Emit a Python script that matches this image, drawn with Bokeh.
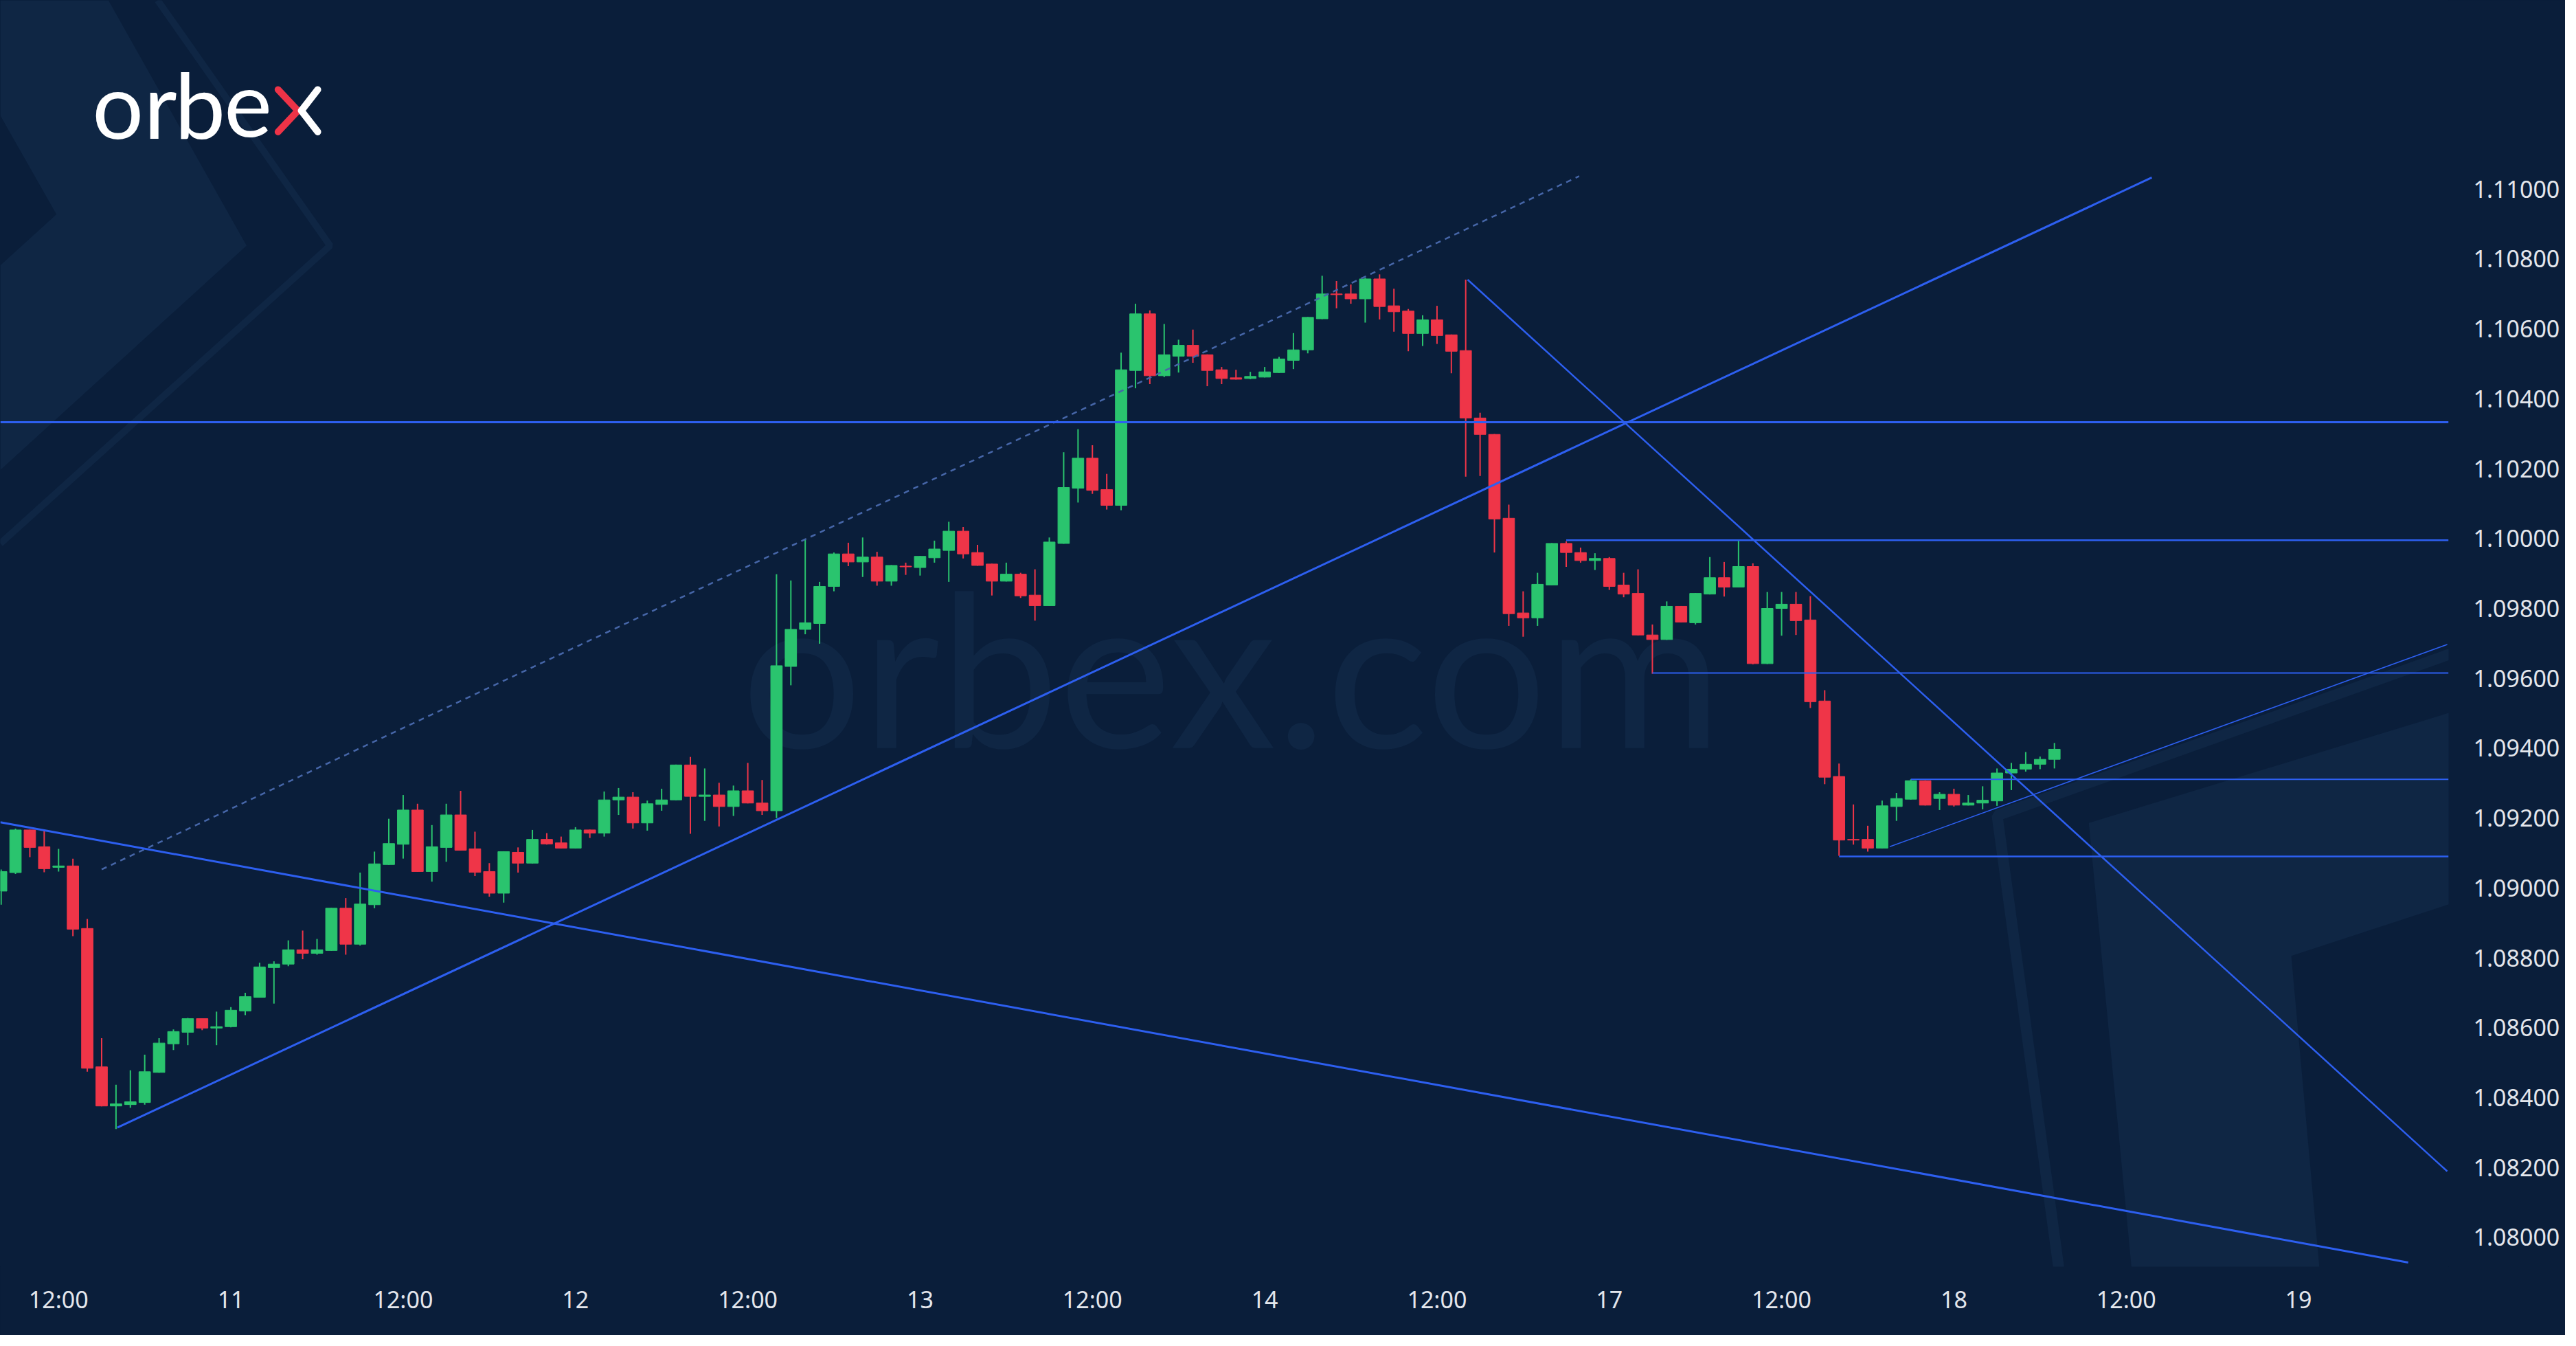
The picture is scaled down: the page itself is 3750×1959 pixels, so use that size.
from bokeh.plotting import figure
from bokeh.models import Range1d, FixedTicker, ColumnDataSource
from bokeh.embed import file_html
from bokeh.resources import INLINE
from bokeh.core.properties import value

# ---------------- data (hourly candles, x = hours from the 10th 00:00) ----------------
hours = list(range(8, 152))
opens = [1.08991, 1.09044, 1.09166, 1.09118, 1.09059, 1.09063, 1.08884, 1.08488, 1.08376, 1.08380,
         1.08386, 1.08472, 1.08554, 1.08587, 1.08626, 1.08599, 1.08603, 1.08648, 1.08687, 1.08772,
         1.08782, 1.08823, 1.08813, 1.08821, 1.08942, 1.08839, 1.08952, 1.09067, 1.09125, 1.09223,
         1.09047, 1.09116, 1.09209, 1.09112, 1.09047, 1.08985, 1.09102, 1.09071, 1.09139, 1.09129,
         1.09114, 1.09166, 1.09157, 1.09252, 1.09260, 1.09186, 1.09239, 1.09252, 1.09352, 1.09262,
         1.09266, 1.09233, 1.09278, 1.09243, 1.09221, 1.09634, 1.09740, 1.09757, 1.09863, 1.09956,
         1.09933, 1.09947, 1.09878, 1.09921, 1.09917, 1.09945, 1.09966, 1.10021, 1.09960, 1.09927,
         1.09878, 1.09898, 1.09838, 1.09808, 1.09986, 1.10144, 1.10230, 1.10140, 1.10095, 1.10481,
         1.10643, 1.10466, 1.10522, 1.10553, 1.10526, 1.10483, 1.10460, 1.10458, 1.10462, 1.10475,
         1.10510, 1.10540, 1.10629, 1.10700, 1.10700, 1.10686, 1.10743, 1.10666, 1.10651, 1.10587,
         1.10626, 1.10583, 1.10538, 1.10345, 1.10298, 1.10058, 1.09787, 1.09773, 1.09867, 1.09986,
         1.09960, 1.09937, 1.09943, 1.09867, 1.09843, 1.09724, 1.09711, 1.09806, 1.09759, 1.09841,
         1.09888, 1.09861, 1.09920, 1.09642, 1.09800, 1.09812, 1.09767, 1.09535, 1.09319, 1.09139,
         1.09139, 1.09114, 1.09233, 1.09254, 1.09307, 1.09256, 1.09268, 1.09237, 1.09243, 1.09249,
         1.09329, 1.09340, 1.09354, 1.09368]
highs = [1.09053, 1.09170, 1.09167, 1.09164, 1.09112, 1.09084, 1.08911, 1.08570, 1.08437, 1.08478,
         1.08523, 1.08570, 1.08595, 1.08628, 1.08627, 1.08646, 1.08659, 1.08700, 1.08786, 1.08790,
         1.08850, 1.08878, 1.08854, 1.08943, 1.08971, 1.09044, 1.09104, 1.09198, 1.09266, 1.09241,
         1.09180, 1.09241, 1.09278, 1.09161, 1.09071, 1.09105, 1.09116, 1.09166, 1.09157, 1.09147,
         1.09174, 1.09167, 1.09276, 1.09286, 1.09274, 1.09250, 1.09284, 1.09353, 1.09375, 1.09342,
         1.09301, 1.09293, 1.09358, 1.09309, 1.09898, 1.09880, 1.09997, 1.09876, 1.09960, 1.09988,
         1.10003, 1.09962, 1.09924, 1.09931, 1.09950, 1.09994, 1.10048, 1.10033, 1.09982, 1.09928,
         1.09931, 1.09902, 1.09912, 1.10003, 1.10247, 1.10313, 1.10267, 1.10185, 1.10532, 1.10672,
         1.10653, 1.10614, 1.10569, 1.10598, 1.10527, 1.10491, 1.10483, 1.10477, 1.10491, 1.10520,
         1.10588, 1.10634, 1.10752, 1.10737, 1.10727, 1.10746, 1.10756, 1.10715, 1.10657, 1.10639,
         1.10666, 1.10584, 1.10741, 1.10360, 1.10299, 1.10097, 1.09849, 1.09902, 1.09987, 1.09992,
         1.09974, 1.09958, 1.09947, 1.09902, 1.09912, 1.09754, 1.09820, 1.09807, 1.09844, 1.09947,
         1.09933, 1.09994, 1.09929, 1.09847, 1.09847, 1.09847, 1.09835, 1.09566, 1.09356, 1.09239,
         1.09178, 1.09250, 1.09272, 1.09311, 1.09308, 1.09274, 1.09284, 1.09266, 1.09291, 1.09342,
         1.09358, 1.09389, 1.09376, 1.09415]
lows = [1.08952, 1.09040, 1.09088, 1.09045, 1.09047, 1.08862, 1.08474, 1.08375, 1.08310, 1.08371,
        1.08380, 1.08471, 1.08536, 1.08550, 1.08593, 1.08550, 1.08601, 1.08636, 1.08686, 1.08669,
        1.08776, 1.08796, 1.08809, 1.08820, 1.08809, 1.08835, 1.08942, 1.09066, 1.09084, 1.09046,
        1.09018, 1.09075, 1.09107, 1.09034, 1.08975, 1.08958, 1.09044, 1.09070, 1.09124, 1.09113,
        1.09113, 1.09143, 1.09147, 1.09209, 1.09170, 1.09164, 1.09221, 1.09251, 1.09155, 1.09192,
        1.09176, 1.09206, 1.09242, 1.09209, 1.09200, 1.09580, 1.09726, 1.09699, 1.09849, 1.09921,
        1.09890, 1.09865, 1.09865, 1.09896, 1.09894, 1.09931, 1.09876, 1.09943, 1.09922, 1.09837,
        1.09877, 1.09830, 1.09765, 1.09807, 1.09985, 1.10103, 1.10128, 1.10083, 1.10081, 1.10430,
        1.10442, 1.10462, 1.10475, 1.10503, 1.10436, 1.10442, 1.10455, 1.10456, 1.10461, 1.10474,
        1.10485, 1.10530, 1.10628, 1.10659, 1.10672, 1.10618, 1.10627, 1.10592, 1.10536, 1.10551,
        1.10557, 1.10473, 1.10177, 1.10179, 1.09960, 1.09750, 1.09719, 1.09750, 1.09866, 1.09919,
        1.09931, 1.09910, 1.09853, 1.09832, 1.09723, 1.09613, 1.09710, 1.09760, 1.09754, 1.09840,
        1.09834, 1.09860, 1.09640, 1.09641, 1.09722, 1.09724, 1.09515, 1.09297, 1.09092, 1.09124,
        1.09104, 1.09113, 1.09192, 1.09253, 1.09236, 1.09223, 1.09233, 1.09236, 1.09225, 1.09235,
        1.09280, 1.09333, 1.09340, 1.09342]
closes = [1.09047, 1.09166, 1.09116, 1.09055, 1.09063, 1.08882, 1.08484, 1.08376, 1.08382, 1.08388,
          1.08474, 1.08556, 1.08589, 1.08626, 1.08599, 1.08603, 1.08650, 1.08689, 1.08774, 1.08782,
          1.08823, 1.08813, 1.08823, 1.08942, 1.08839, 1.08954, 1.09069, 1.09127, 1.09223, 1.09047,
          1.09118, 1.09209, 1.09108, 1.09045, 1.08985, 1.09104, 1.09071, 1.09139, 1.09126, 1.09114,
          1.09166, 1.09157, 1.09252, 1.09260, 1.09186, 1.09241, 1.09252, 1.09352, 1.09262, 1.09266,
          1.09233, 1.09278, 1.09243, 1.09221, 1.09636, 1.09740, 1.09759, 1.09863, 1.09956, 1.09933,
          1.09947, 1.09878, 1.09923, 1.09919, 1.09949, 1.09970, 1.10021, 1.09956, 1.09923, 1.09878,
          1.09898, 1.09836, 1.09808, 1.09990, 1.10146, 1.10230, 1.10138, 1.10095, 1.10483, 1.10643,
          1.10466, 1.10526, 1.10553, 1.10522, 1.10481, 1.10458, 1.10456, 1.10464, 1.10477, 1.10514,
          1.10540, 1.10633, 1.10700, 1.10698, 1.10686, 1.10743, 1.10664, 1.10649, 1.10587, 1.10626,
          1.10581, 1.10536, 1.10345, 1.10298, 1.10056, 1.09785, 1.09773, 1.09869, 1.09986, 1.09960,
          1.09937, 1.09943, 1.09863, 1.09841, 1.09724, 1.09711, 1.09806, 1.09761, 1.09843, 1.09888,
          1.09861, 1.09920, 1.09642, 1.09800, 1.09812, 1.09765, 1.09533, 1.09317, 1.09137, 1.09137,
          1.09114, 1.09235, 1.09256, 1.09307, 1.09237, 1.09268, 1.09237, 1.09243, 1.09251, 1.09329,
          1.09340, 1.09354, 1.09368, 1.09397]

# horizontal levels: (start hour, price)
level_starts = [7.945, 117, 123, 141, 136]
level_prices = [1.10333, 1.09995, 1.09615, 1.09311, 1.09090]
level_widths = [3, 2.5, 2, 2, 2.5]

# sloped trend lines: (x0, y0, x1, y1)
trend_x0 = [16.09, 110.13, 7.945, 139.53]
trend_y0 = [1.08314, 1.10741, 1.09188, 1.09118]
trend_x1 = [157.78, 178.36, 175.64, 178.36]
trend_y1 = [1.11033, 1.08189, 1.07928, 1.09697]
trend_widths = [3, 2.5, 3, 1.6]

# dashed channel line
dash_x = [15.0, 117.9]
dash_y = [1.09053, 1.11037]

price_ticks = [1.080, 1.082, 1.084, 1.086, 1.088, 1.090, 1.092, 1.094,
               1.096, 1.098, 1.100, 1.102, 1.104, 1.106, 1.108, 1.110]
price_labels = ["1.08000", "1.08200", "1.08400", "1.08600", "1.08800", "1.09000", "1.09200", "1.09400",
                "1.09600", "1.09800", "1.10000", "1.10200", "1.10400", "1.10600", "1.10800", "1.11000"]
time_ticks = [12, 24, 36, 48, 60, 72, 84, 96, 108, 120, 132, 144, 156, 168]
time_labels = ["12:00", "11", "12:00", "12", "12:00", "13", "12:00", "14",
               "12:00", "17", "12:00", "18", "12:00", "19"]

# ---------------- style ----------------
BG = "#0a1e3a"
LIGHT = "#0f2644"
GREEN = "#2ac46e"
RED = "#ef3548"
BLUE = "#2d5ff0"
X_LO, X_HI = 7.945, 178.45
Y_LO, Y_HI = 1.079162, 1.115403


def X(px):  # reference pixel -> hours (decorations only)
    return 24 + (px - 337) / 20.99


def Y(py):  # reference pixel -> price (decorations only)
    return 1.11 - (py - 277) / 51267


p = figure(width=3734, height=1943, x_range=Range1d(X_LO, X_HI), y_range=Range1d(Y_LO, Y_HI),
           output_backend="svg", toolbar_location=None, y_axis_location="right",
           background_fill_color=BG, border_fill_color=BG, outline_line_color=None,
           min_border=0, min_border_left=0, min_border_top=0,
           min_border_right=170, min_border_bottom=100)
p.styles = {"background-color": BG}
p.xgrid.visible = False
p.ygrid.visible = False

# background chevrons
tl_band = [(0, 0), (158, 0), (360, 360), (0, 689), (0, 389), (82, 314), (0, 169)]
p.patch([X(a) for a, b in tl_band], [Y(b) for a, b in tl_band], fill_color=LIGHT, line_color=None)
tl_stroke = [(230, 0), (482, 360), (0, 797)]
p.line([X(a) for a, b in tl_stroke], [Y(b) for a, b in tl_stroke], line_color=LIGHT, line_width=10)
br_band = [(3053, 1207), (3760, 990), (3760, 1267), (3349, 1402), (3400, 1970), (3126, 1970)]
p.patch([X(a) for a, b in br_band], [Y(b) for a, b in br_band], fill_color=LIGHT, line_color=None)
br_stroke = [(3760, 895), (2919, 1196), (3024, 1970)]
p.line([X(a) for a, b in br_stroke], [Y(b) for a, b in br_stroke], line_color=LIGHT, line_width=16)

# watermark
p.text(x=[X(1800)], y=[Y(976)], text=["orbex.com"], text_font=value("Lato"),
       text_font_size="310px", text_color=LIGHT, text_align="center", text_baseline="alphabetic")

# candles
up = [i for i in range(len(hours)) if closes[i] >= opens[i]]
dn = [i for i in range(len(hours)) if closes[i] < opens[i]]
for idx, col in ((up, GREEN), (dn, RED)):
    src = ColumnDataSource(dict(
        x=[hours[i] for i in idx],
        high=[highs[i] for i in idx],
        low=[lows[i] for i in idx],
        top=[max(opens[i], closes[i]) for i in idx],
        bottom=[min(opens[i], closes[i]) for i in idx],
    ))
    p.segment(x0="x", y0="high", x1="x", y1="low", source=src, line_color=col, line_width=2)
    p.vbar(x="x", width=0.8, top="top", bottom="bottom", source=src,
           fill_color=col, line_color=col, line_width=1)

# drawings
p.line(dash_x, dash_y, line_color="#4666a8", line_width=2.5, line_dash="8 7")
for xs, pr, w in zip(level_starts, level_prices, level_widths):
    p.segment(x0=[xs], y0=[pr], x1=[X_HI], y1=[pr], line_color=BLUE, line_width=w)
for a, b, c, d, w in zip(trend_x0, trend_y0, trend_x1, trend_y1, trend_widths):
    p.segment(x0=[a], y0=[b], x1=[c], y1=[d], line_color=BLUE, line_width=w)

# logo
p.text(x=[X(172), X(234), X(292), X(362)], y=[Y(152)] * 4, text=["o", "r", "b", "e"],
       text_font=value("Lato"), text_font_size="132px", text_color="white",
       text_align="center", text_baseline="alphabetic")
p.line([X(406), X(435), X(406)], [Y(131), Y(162), Y(193)], line_color="#ee3347",
       line_width=10, line_cap="round", line_join="round")
p.line([X(464), X(440), X(464)], [Y(131), Y(162), Y(193)], line_color="white",
       line_width=10, line_cap="round", line_join="round")

# axes
for ax in (p.xaxis[0], p.yaxis[0]):
    ax.axis_line_color = None
    ax.major_tick_line_color = None
    ax.minor_tick_line_color = None
    ax.major_tick_in = 0
    ax.major_tick_out = 0
    ax.major_label_text_font = "Noto Sans"
    ax.major_label_text_font_size = "34px"
    ax.major_label_text_color = "#e3e6ec"
p.yaxis.ticker = FixedTicker(ticks=price_ticks)
p.yaxis.major_label_overrides = {t: s for t, s in zip(price_ticks, price_labels)}
p.yaxis.major_label_standoff = 36
p.xaxis.ticker = FixedTicker(ticks=time_ticks)
p.xaxis.major_label_overrides = {t: s for t, s in zip(time_ticks, time_labels)}
p.xaxis.major_label_standoff = 24

open("out.html", "w").write(file_html(p, INLINE))
